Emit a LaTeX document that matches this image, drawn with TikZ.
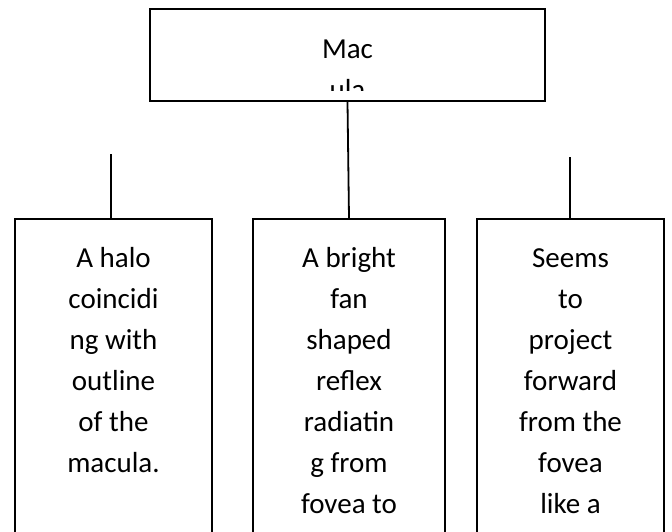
\documentclass[tikz,border=0pt]{standalone}
\usepackage{fontspec}
\setmainfont{Carlito}
\usepackage{tikz}

\begin{document}
\begin{tikzpicture}[x=1pt,y=-1pt,line width=1.8pt,
    leaf/.style={draw,anchor=north,minimum height=400pt,inner sep=0pt},
    words/.style={anchor=north,align=center,inner sep=0pt,font=\fontsize{29}{41}\selectfont}]
  \useasboundingbox (0,0) rectangle (672,531);
  \clip (0,0) rectangle (672,531);
  \node[draw,minimum width=395pt,minimum height=92pt,inner sep=0pt] (macula) at (347.5,55) {};
  \begin{scope}
    \clip (151,10) rectangle (544,90);
    \node[words] (macula-text) at (347.5,28) {\rule{0pt}{30pt}Mac\\ula};
  \end{scope}
  \node[leaf,minimum width=197pt] (halo) at (113.5,218) {};
  \node[leaf,minimum width=192pt] (bright) at (349,218) {};
  \node[leaf,minimum width=187pt] (seems) at (570.5,218) {};
  \node[words] (halo-text) at (113.5,237) {\rule{0pt}{30pt}A halo\\coincidi\\ng with\\outline\\of the\\macula.};
  \node[words] (bright-text) at (349,237) {\rule{0pt}{30pt}A bright\\fan\\shaped\\reflex\\radiatin\\g from\\fovea to};
  \node[words] (seems-text) at (570.5,237) {\rule{0pt}{30pt}Seems\\to\\project\\forward\\from the\\fovea\\like a};
  \coordinate (halo-top) at (111,154);
  \coordinate (seems-top) at (570,157);
  \draw (halo-top) -- (halo-top |- halo.north);
  \draw (macula.south) -- (bright.north);
  \draw (seems-top) -- (seems-top |- seems.north);
\end{tikzpicture}
\end{document}
